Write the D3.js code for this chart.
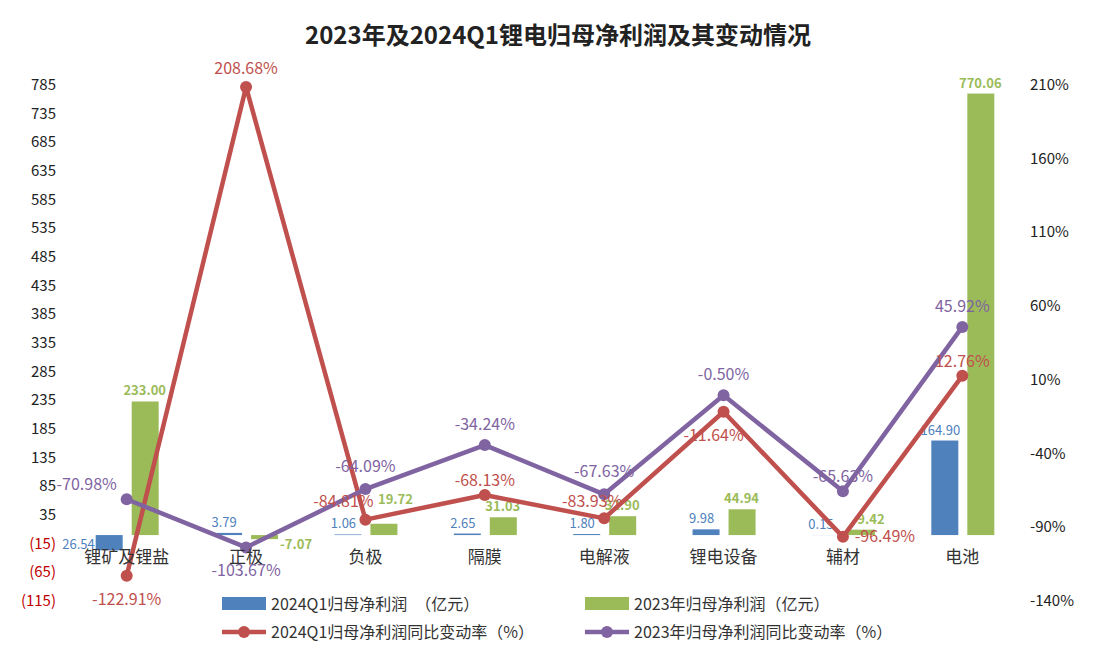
<!DOCTYPE html>
<html><head><meta charset="utf-8">
<script src="https://cdn.jsdelivr.net/npm/d3@7"></script>
<style>body{margin:0;background:#fff;font-family:"Noto Sans CJK SC","Noto Sans",sans-serif}</style>
</head><body><svg id="chart"></svg>
<script>
// 数据
const categories = ["锂矿及锂盐","正极","负极","隔膜","电解液","锂电设备","辅材","电池"];
const profitQ1 = [-26.54, 3.79, 1.06, 2.65, 1.80, 9.98, 0.15, 164.90];
const profit2023 = [233.00, -7.07, 19.72, 31.03, 32.90, 44.94, 9.42, 770.06];
const changeQ1 = [-122.91, 208.68, -84.81, -68.13, -83.93, -11.64, -96.49, 12.76];
const change2023 = [-70.98, -103.67, -64.09, -34.24, -67.63, -0.50, -65.63, 45.92];
const leftTicks = d3.range(-115, 786, 50);
const rightTicks = d3.range(-140, 211, 50);

const width = 1117, height = 656;
const svg = d3.select("#chart").attr("width", width).attr("height", height);

const x = d3.scaleBand().domain(categories).range([67, 1022]);
const yL = d3.scaleLinear().domain([-115, 785]).range([601, 85]);
const yR = d3.scaleLinear().domain([-140, 210]).range([601, 85]);
const blue = "#4f81bd", green = "#9bbb59", red = "#c0504d", purple = "#8064a2";
const cx = d => x(d) + x.bandwidth() / 2;

// 标题
svg.append("text").attr("x", 558).attr("y", 44).attr("text-anchor", "middle")
  .attr("font-size", 24).attr("font-weight", "bold").attr("fill", "#222")
  .text("2023年及2024Q1锂电归母净利润及其变动情况");

// 左轴
svg.selectAll(".lt").data(leftTicks).enter().append("text")
  .attr("x", 56).attr("y", d => yL(d) + 5).attr("text-anchor", "end")
  .attr("font-size", 15).attr("fill", d => d < 0 ? "#c00000" : "#222")
  .text(d => d < 0 ? "(" + (-d) + ")" : d);
// 右轴
svg.selectAll(".rt").data(rightTicks).enter().append("text")
  .attr("x", 1030).attr("y", d => yR(d) + 5).attr("font-size", 15).attr("fill", "#222")
  .text(d => d + "%");

// 柱子
svg.selectAll(".b1").data(categories).enter().append("rect")
  .attr("x", d => cx(d) - 31).attr("width", 27)
  .attr("y", (d, i) => yL(Math.max(0, profitQ1[i])))
  .attr("height", (d, i) => Math.abs(yL(profitQ1[i]) - yL(0)))
  .attr("fill", blue);
svg.selectAll(".b2").data(categories).enter().append("rect")
  .attr("x", d => cx(d) + 5).attr("width", 27)
  .attr("y", (d, i) => yL(Math.max(0, profit2023[i])))
  .attr("height", (d, i) => Math.abs(yL(profit2023[i]) - yL(0)))
  .attr("fill", green);

// 柱子标签
svg.selectAll(".l1").data(categories).enter().append("text")
  .attr("x", (d, i) => profitQ1[i] < 0 ? cx(d) - 32 : cx(d) - 22)
  .attr("y", (d, i) => profitQ1[i] < 0 ? yL(0) + 14 : yL(profitQ1[i]) - 6)
  .attr("text-anchor", (d, i) => profitQ1[i] < 0 ? "end" : "middle")
  .attr("font-size", 13).attr("fill", blue)
  .text((d, i) => profitQ1[i].toFixed(2).replace("-", ""));
const gDx = [0, 0, 12, 0, 0, 0, 10, 0];
svg.selectAll(".l2").data(categories).enter().append("text")
  .attr("x", (d, i) => profit2023[i] < 0 ? cx(d) + 34 : cx(d) + 18 + gDx[i])
  .attr("y", (d, i) => profit2023[i] < 0 ? yL(0) + 14 : yL(profit2023[i]) - (i === 2 ? 20 : 6))
  .attr("text-anchor", (d, i) => profit2023[i] < 0 ? "start" : "middle")
  .attr("font-size", 13).attr("font-weight", "bold").attr("fill", green)
  .text((d, i) => profit2023[i].toFixed(2));

// 折线
const drawLine = (vals, color) => {
  svg.append("path").datum(vals)
    .attr("d", d3.line().x((d, i) => cx(categories[i])).y(d => yR(d)))
    .attr("fill", "none").attr("stroke", color).attr("stroke-width", 4.5).attr("stroke-linejoin", "round");
  svg.selectAll(null).data(vals).enter().append("circle")
    .attr("cx", (d, i) => cx(categories[i])).attr("cy", d => yR(d)).attr("r", 6).attr("fill", color);
};
drawLine(changeQ1, red);
drawLine(change2023, purple);

// 分类标签
svg.selectAll(".cat").data(categories).enter().append("text")
  .attr("x", d => cx(d)).attr("y", 563).attr("text-anchor", "middle")
  .attr("font-size", 17).attr("fill", "#333").text(d => d);

// 折线标签
const redDy = [24, -18, -18, -14, -16, 24, 0, -14];
const redDx = [0, 0, -22, 0, -12, -10, 42, 0];
const purDy = [-14, 24, -22, -20, -22, -20, -14, -20];
const purDx = [-40, 0, 0, 0, 0, 0, 0, 0];
svg.selectAll(".rl").data(changeQ1).enter().append("text")
  .attr("x", (d, i) => cx(categories[i]) + redDx[i]).attr("y", (d, i) => yR(d) + redDy[i] + 5)
  .attr("text-anchor", "middle").attr("font-size", 16).attr("fill", red)
  .text(d => d.toFixed(2) + "%");
svg.selectAll(".pl").data(change2023).enter().append("text")
  .attr("x", (d, i) => cx(categories[i]) + purDx[i]).attr("y", (d, i) => yR(d) + purDy[i] + 5)
  .attr("text-anchor", "middle").attr("font-size", 16).attr("fill", purple)
  .text(d => d.toFixed(2) + "%");

// 图例
const legend = [
  {t: "2024Q1归母净利润　（亿元）", c: blue, type: "bar", x: 222, y: 604},
  {t: "2023年归母净利润（亿元）", c: green, type: "bar", x: 585, y: 604},
  {t: "2024Q1归母净利润同比变动率（%）", c: red, type: "line", x: 222, y: 632},
  {t: "2023年归母净利润同比变动率（%）", c: purple, type: "line", x: 585, y: 632}
];
legend.forEach(l => {
  if (l.type === "bar") {
    svg.append("rect").attr("x", l.x).attr("y", l.y - 7).attr("width", 44).attr("height", 13).attr("fill", l.c);
  } else {
    svg.append("line").attr("x1", l.x).attr("x2", l.x + 44).attr("y1", l.y).attr("y2", l.y)
      .attr("stroke", l.c).attr("stroke-width", 4.5);
    svg.append("circle").attr("cx", l.x + 22).attr("cy", l.y).attr("r", 6).attr("fill", l.c);
  }
  svg.append("text").attr("x", l.x + 49).attr("y", l.y + 6).attr("font-size", 16).attr("fill", "#333").text(l.t);
});
</script></body></html>
